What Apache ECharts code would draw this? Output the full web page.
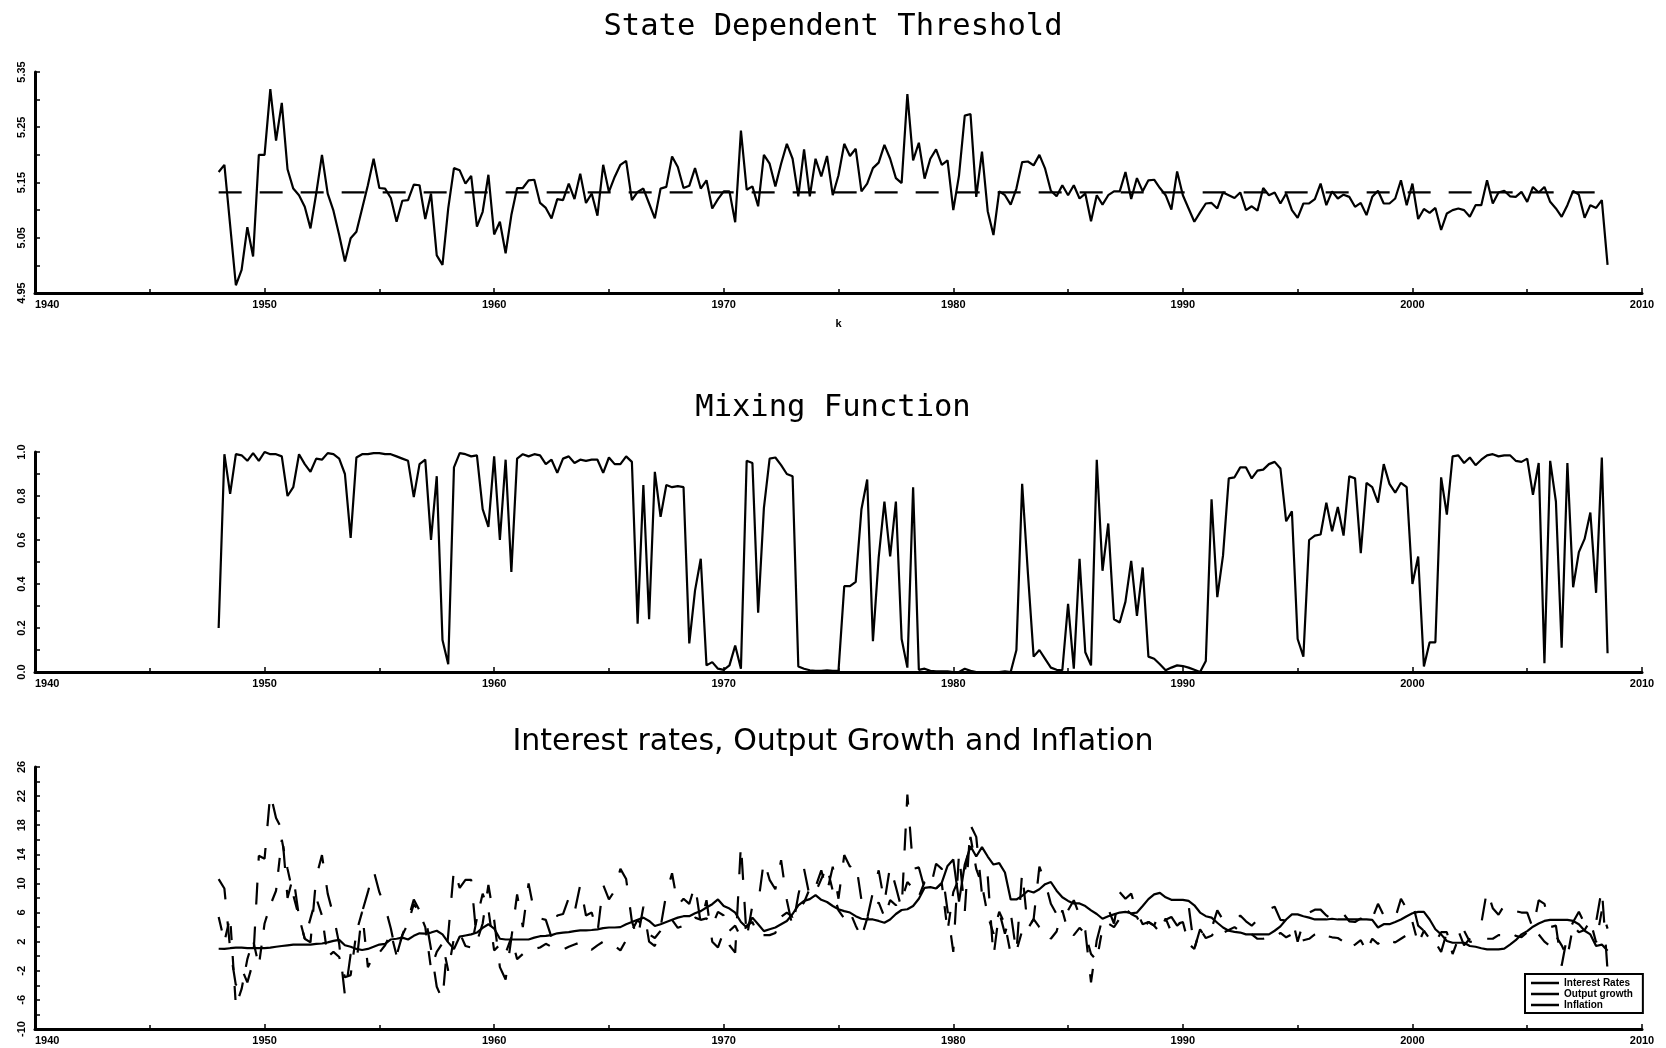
<!DOCTYPE html>
<html>
<head>
<meta charset="utf-8">
<script src="https://cdn.jsdelivr.net/npm/echarts@6/dist/echarts.min.js"></script>
<style>
  html, body { margin: 0; padding: 0; background: #ffffff; }
  #chart { width: 1666px; height: 1048px; }
</style>
</head>
<body>
<div id="chart"></div>
<script>
// Quarterly observations, 1948Q1 .. 2008Q3
const startYear = 1948;

// State dependent threshold (one row per year)
const threshold = [
  5.169, 5.182, 5.073, 4.964,
  4.992, 5.069, 5.016, 5.200,
  5.200, 5.319, 5.226, 5.294,
  5.174, 5.139, 5.127, 5.106,
  5.067, 5.130, 5.200, 5.130,
  5.099, 5.055, 5.007, 5.049,
  5.061, 5.103, 5.145, 5.193,
  5.140, 5.139, 5.122, 5.079,
  5.117, 5.118, 5.146, 5.145,
  5.084, 5.130, 5.018, 5.001,
  5.103, 5.176, 5.172, 5.148,
  5.162, 5.070, 5.097, 5.164,
  5.056, 5.079, 5.022, 5.091,
  5.140, 5.140, 5.154, 5.155,
  5.113, 5.104, 5.085, 5.120,
  5.118, 5.148, 5.120, 5.166,
  5.113, 5.130, 5.090, 5.182,
  5.133, 5.160, 5.182, 5.189,
  5.118, 5.133, 5.139, 5.112,
  5.085, 5.139, 5.142, 5.197,
  5.178, 5.140, 5.144, 5.176,
  5.139, 5.154, 5.103, 5.120,
  5.134, 5.134, 5.078, 5.244,
  5.137, 5.143, 5.107, 5.200,
  5.184, 5.143, 5.184, 5.220,
  5.193, 5.125, 5.210, 5.125,
  5.193, 5.161, 5.198, 5.127,
  5.163, 5.220, 5.198, 5.211,
  5.134, 5.148, 5.176, 5.186,
  5.218, 5.193, 5.158, 5.149,
  5.310, 5.190, 5.222, 5.157,
  5.193, 5.210, 5.182, 5.190,
  5.100, 5.163, 5.271, 5.274,
  5.124, 5.206, 5.098, 5.055,
  5.134, 5.127, 5.110, 5.139,
  5.187, 5.188, 5.181, 5.200,
  5.175, 5.135, 5.125, 5.145,
  5.127, 5.145, 5.121, 5.130,
  5.080, 5.127, 5.110, 5.127,
  5.134, 5.134, 5.169, 5.120,
  5.158, 5.134, 5.154, 5.155,
  5.140, 5.127, 5.101, 5.170,
  5.127, 5.103, 5.079, 5.096,
  5.112, 5.113, 5.103, 5.132,
  5.127, 5.122, 5.132, 5.100,
  5.107, 5.099, 5.140, 5.127,
  5.132, 5.112, 5.130, 5.100,
  5.086, 5.112, 5.112, 5.120,
  5.148, 5.109, 5.134, 5.121,
  5.128, 5.124, 5.106, 5.113,
  5.091, 5.124, 5.135, 5.112,
  5.112, 5.121, 5.154, 5.109,
  5.148, 5.084, 5.102, 5.095,
  5.104, 5.064, 5.094, 5.100,
  5.103, 5.100, 5.088, 5.109,
  5.109, 5.154, 5.112, 5.132,
  5.135, 5.125, 5.124, 5.133,
  5.115, 5.142, 5.132, 5.142,
  5.115, 5.103, 5.088, 5.109,
  5.135, 5.128, 5.086, 5.109,
  5.104, 5.118, 5.001
];

// Constant (linear) threshold
const thresholdLevel = 5.132;

// Mixing function
const mixing = [
  0.20, 0.99, 0.81, 0.99,
  0.985, 0.96, 0.995, 0.96,
  1.00, 0.99, 0.99, 0.98,
  0.80, 0.84, 0.99, 0.945,
  0.91, 0.97, 0.965, 0.995,
  0.99, 0.97, 0.90, 0.61,
  0.975, 0.99, 0.99, 0.995,
  0.995, 0.99, 0.99, 0.98,
  0.97, 0.96, 0.795, 0.945,
  0.965, 0.60, 0.89, 0.145,
  0.035, 0.93, 0.995, 0.99,
  0.98, 0.985, 0.74, 0.66,
  0.98, 0.60, 0.965, 0.455,
  0.97, 0.99, 0.98, 0.99,
  0.985, 0.945, 0.965, 0.905,
  0.97, 0.98, 0.95, 0.965,
  0.96, 0.965, 0.965, 0.905,
  0.975, 0.945, 0.945, 0.98,
  0.955, 0.22, 0.85, 0.24,
  0.91, 0.705, 0.85, 0.84,
  0.845, 0.84, 0.13, 0.37,
  0.515, 0.03, 0.045, 0.015,
  0.01, 0.03, 0.12, 0.015,
  0.96, 0.95, 0.27, 0.745,
  0.97, 0.975, 0.94, 0.90,
  0.89, 0.025, 0.015, 0.008,
  0.005, 0.005, 0.008, 0.005,
  0.005, 0.39, 0.39, 0.41,
  0.74, 0.875, 0.14, 0.52,
  0.775, 0.525, 0.775, 0.15,
  0.02, 0.84, 0.01, 0.015,
  0.005, 0.003, 0.003, 0.003,
  0.0, 0.0, 0.015, 0.005,
  0.0, 0.0, 0.0, 0.0,
  0.0, 0.003, 0.0, 0.10,
  0.855, 0.45, 0.07, 0.10,
  0.06, 0.02, 0.01, 0.008,
  0.31, 0.015, 0.515, 0.09,
  0.03, 0.965, 0.46, 0.675,
  0.24, 0.225, 0.32, 0.505,
  0.255, 0.475, 0.07, 0.06,
  0.035, 0.008, 0.02, 0.03,
  0.027, 0.02, 0.01, 0.0,
  0.05, 0.785, 0.34, 0.53,
  0.88, 0.885, 0.93, 0.93,
  0.88, 0.915, 0.92, 0.945,
  0.955, 0.925, 0.685, 0.73,
  0.15, 0.07, 0.60, 0.62,
  0.625, 0.77, 0.64, 0.75,
  0.62, 0.89, 0.88, 0.54,
  0.86, 0.84, 0.77, 0.945,
  0.855, 0.815, 0.86, 0.84,
  0.40, 0.525, 0.025, 0.135,
  0.135, 0.885, 0.715, 0.98,
  0.985, 0.95, 0.975, 0.94,
  0.965, 0.985, 0.99, 0.98,
  0.985, 0.985, 0.96, 0.955,
  0.97, 0.805, 0.95, 0.04,
  0.96, 0.775, 0.11, 0.95,
  0.385, 0.545, 0.605, 0.725,
  0.36, 0.975, 0.085
];

// Short-term interest rate (%)
const interestRates = [
  1.03, 1.00, 1.10, 1.17,
  1.17, 1.10, 1.10, 1.10,
  1.12, 1.17, 1.30, 1.40,
  1.50, 1.60, 1.60, 1.60,
  1.60, 1.70, 1.75, 1.90,
  2.10, 2.25, 1.50, 1.30,
  1.00, 0.85, 1.00, 1.30,
  1.60, 1.70, 2.30, 2.40,
  2.55, 2.30, 2.80, 3.15,
  3.10, 3.25, 3.50, 3.00,
  1.90, 1.00, 2.70, 2.85,
  3.00, 3.25, 3.90, 4.40,
  3.80, 2.40, 2.30, 2.30,
  2.30, 2.30, 2.30, 2.55,
  2.75, 2.80, 2.90, 3.15,
  3.25, 3.30, 3.45, 3.55,
  3.55, 3.60, 3.70, 3.85,
  3.95, 3.95, 4.00, 4.40,
  4.70, 5.00, 5.30, 4.85,
  4.15, 4.40, 4.70, 5.00,
  5.30, 5.50, 5.50, 5.90,
  6.20, 6.70, 7.15, 7.80,
  6.90, 6.55, 6.00, 4.70,
  3.95, 5.30, 4.40, 3.45,
  3.70, 3.95, 4.40, 4.85,
  5.80, 7.00, 7.60, 7.85,
  8.40, 7.75, 7.45, 6.90,
  6.45, 6.20, 6.00, 5.50,
  5.15, 5.05, 5.05, 4.85,
  4.60, 5.05, 5.80, 6.35,
  6.45, 6.90, 7.90, 9.40,
  9.50, 9.30, 10.10, 12.40,
  13.30, 7.50, 12.60, 15.10,
  13.70, 15.00, 13.70, 12.60,
  12.80, 11.50, 7.80, 7.80,
  8.30, 9.00, 8.75, 9.20,
  9.90, 10.20, 9.00, 8.10,
  7.60, 7.25, 7.25, 6.90,
  6.30, 5.80, 5.15, 5.50,
  5.75, 6.00, 6.10, 5.90,
  6.00, 6.90, 7.85, 8.50,
  8.70, 8.10, 7.75, 7.75,
  7.75, 7.60, 7.00, 6.00,
  5.50, 5.30, 4.60, 3.95,
  3.50, 3.35, 3.25, 3.00,
  3.00, 3.00, 3.00, 3.00,
  3.50, 4.10, 5.05, 5.75,
  5.75, 5.50, 5.30, 5.05,
  5.05, 5.05, 5.15, 5.05,
  5.05, 5.05, 5.05, 5.05,
  5.05, 5.00, 3.95, 4.40,
  4.40, 4.70, 5.05, 5.50,
  5.90, 6.10, 6.10, 5.05,
  3.70, 3.00, 2.10, 1.85,
  1.85, 1.85, 1.40, 1.30,
  1.10, 0.95, 0.95, 0.95,
  1.05, 1.60, 2.20, 3.00,
  3.45, 4.05, 4.50, 4.85,
  5.00, 5.00, 5.00, 5.00,
  4.85, 4.40, 3.50, 3.00,
  1.40, 1.60, 0.75
];

// Output growth (%)
const outputGrowth = [
  10.6, 9.3, 1.0, -4.0,
  -1.7, -3.6, -0.8, 13.8,
  13.4, 22.4, 19.0, 17.5,
  8.0, 11.0, 5.4, 2.4,
  1.9, 10.9, 13.9, 8.6,
  5.6, 1.7, -5.4, 0.3,
  -1.0, 6.1, 8.8, 11.8,
  8.8, 6.8, 3.8, 0.1,
  2.9, 5.0, 7.8, 6.3,
  5.6, 1.0, -4.2, -6.0,
  3.0, 12.0, 9.4, 10.5,
  10.5, 2.0, 4.5, 9.8,
  5.0, -1.5, -3.2, 2.5,
  8.5, 4.0, 10.0, 6.0,
  5.2, 5.0, 2.6, 5.6,
  5.8, 8.0, 6.0, 9.8,
  5.6, 6.0, 3.2, 9.8,
  7.8, 9.0, 12.0, 10.6,
  4.8, 2.4, 6.8, 2.0,
  1.4, 4.0, 8.6, 11.4,
  7.0, 7.9, 7.2, 9.8,
  4.5, 7.7, 2.0, 1.2,
  3.4, 1.5, 0.5, 15.4,
  2.5, 7.0, 7.2, 13.2,
  10.5, 9.2, 13.2, 7.7,
  4.0, 8.4, 12.0, 8.1,
  9.5, 11.8, 8.8, 12.3,
  7.9, 13.9, 12.3, 13.0,
  7.7, 5.2, 8.8, 11.8,
  7.4, 12.4, 9.5, 6.5,
  22.2, 12.0, 12.2, 9.3,
  9.3, 12.7, 12.0, 6.3,
  0.6, 14.2, 6.1, 18.0,
  16.4, 8.5, 11.0, -0.1,
  6.1, 3.1, 6.0, 0.5,
  11.6, 3.8, 5.1, 12.3,
  10.2, 7.2, 5.8, 7.2,
  6.3, 7.7, 5.6, 3.5,
  -3.6, 2.2, 5.2, 6.5,
  4.5, 8.8, 7.9, 8.6,
  6.0, 4.4, 4.7, 4.2,
  6.2, 5.0, 5.4, 4.2,
  4.9, 7.0, 1.0, 3.7,
  2.5, 3.8, 6.3, 5.0,
  5.2, 4.8, 5.6, 4.8,
  4.2, 5.0, 5.8, 6.5,
  6.8, 5.0, 4.9, 5.4,
  2.0, 4.7, 6.0, 6.4,
  6.4, 5.6, 5.0, 6.1,
  5.8, 4.8, 4.7, 5.2,
  4.2, 5.2, 7.2, 5.6,
  4.8, 5.2, 7.9, 6.5,
  7.4, 4.2, 3.5, 2.8,
  1.9, 0.6, 3.3, 4.0,
  3.5, 1.5, 2.4, 3.7,
  4.5, 9.1, 6.6, 5.7,
  7.0, 5.8, 6.2, 6.0,
  6.0, 3.8, 7.7, 7.2,
  4.0, 4.2, -1.3, 2.9,
  4.7, 6.1, 4.5, 5.2,
  4.7, 9.3, -2.0
];

// Inflation (%)
const inflation = [
  5.4, 2.0, 5.4, -6.8,
  -4.5, -0.4, 2.2, -1.3,
  4.5, 7.0, 9.0, 16.0,
  12.0, 8.4, 5.4, 2.4,
  5.2, 8.0, 5.6, -0.1,
  0.6, -0.1, -2.9, -2.6,
  3.3, 6.1, -1.5, 0.1,
  0.5, 1.5, 3.2, 0.1,
  2.9, 4.5, 7.2, 6.0,
  4.0, -1.7, 0.6, 1.8,
  -2.0, 2.5, 3.2, 1.4,
  1.2, 5.2, 8.6, 6.4,
  0.8, 1.6, 0.4, 2.6,
  -0.4, 0.3, 0.6, 1.0,
  1.2, 1.7, 1.3, 0.9,
  0.9, 1.3, 1.6, 1.9,
  1.2, 0.9, 1.5, 2.0,
  1.9, 1.4, 0.8, 2.2,
  3.5, 5.0, 4.0, 3.0,
  2.5, 3.5, 4.5, 5.0,
  3.9, 4.2, 4.5, 5.3,
  5.0, 5.2, 4.2, 6.1,
  5.6, 3.5, 4.2, 2.6,
  4.2, 4.7, 2.9, 2.9,
  2.9, 3.2, 5.4, 6.0,
  5.4, 6.3, 7.4, 9.3,
  8.8, 10.6, 12.2, 9.0,
  6.3, 5.2, 6.1, 4.2,
  2.6, 5.2, 6.1, 7.4,
  5.4, 7.7, 7.0, 7.7,
  10.2, 9.3, 8.2, 10.2,
  10.4, 9.3, 10.0, 3.5,
  8.8, 10.7, 11.6, 16.4,
  12.0, 9.8, 5.6, 3.1,
  6.1, 4.4, 0.3, 0.7,
  3.5, 3.8, 5.1, 4.0,
  3.7, 2.4, 3.4, 6.3,
  3.4, 2.9, 3.9, 3.1,
  0.3, -0.6, 3.9, 4.5,
  4.0, 5.2, 6.5, 5.8,
  5.4, 3.8, 4.7, 4.2,
  3.3, 5.2, 3.3, 4.4,
  4.7, 1.7, 1.0, 3.7,
  2.5, 2.8, 3.8, 3.2,
  3.6, 4.0, 3.4, 3.2,
  3.0, 2.4, 2.4, 2.6,
  2.6, 3.2, 2.6, 3.0,
  2.0, 2.2, 2.4, 3.0,
  3.4, 2.8, 2.6, 2.5,
  2.0, 1.1, 1.6, 2.2,
  0.7, 2.4, 1.7, 2.4,
  2.1, 1.9, 2.4, 2.9,
  4.7, 1.7, 3.5, 2.4,
  1.9, 3.3, 3.3, 0.3,
  2.4, 3.5, 2.0, 1.9,
  2.2, 2.4, 2.4, 2.9,
  2.9, 3.3, 2.8, 2.6,
  3.3, 3.8, 3.0, 2.0,
  1.4, 2.8, 1.5, -0.1,
  4.2, 3.3, 3.6, 4.9,
  1.9, 6.3, 3.8
];

// Axis ticks
const yearTicks = { min: 1940, max: 2010, step: 10 };
const thresholdTicks = { min: 4.95, max: 5.35, step: 0.1, digits: 2 };
const mixingTicks = { min: 0, max: 1, step: 0.2, digits: 1 };
const ratesTicks = { min: -10, max: 26, step: 4, digits: 0 };

const quarters = threshold.map((_, i) => startYear + i / 4);
const pairs = vals => vals.map((v, i) => [quarters[i], v]);
const lastQuarter = quarters[quarters.length - 1];

const INK = '#000000';
const labelFont = { color: INK, fontFamily: 'Liberation Sans, Arial, sans-serif', fontWeight: 'bold', fontSize: 11 };

const panels = [
  { top: 72, height: 221 },
  { top: 452, height: 220 },
  { top: 767, height: 262 }
];

function xAxisFor(gridIndex, extra) {
  return Object.assign({
    type: 'value', gridIndex,
    min: yearTicks.min, max: yearTicks.max, interval: yearTicks.step,
    axisLine: { show: true, onZero: false, lineStyle: { color: INK, width: 3 } },
    axisTick: { show: true, inside: true, length: 5, lineStyle: { color: INK, width: 1.5 } },
    minorTick: { show: true, splitNumber: 2, length: 4, lineStyle: { color: INK, width: 1.5 } },
    splitLine: { show: false },
    axisLabel: Object.assign({
      margin: 6, alignMinLabel: 'left', showMinLabel: true, showMaxLabel: true,
      formatter: v => String(Math.round(v))
    }, labelFont)
  }, extra || {});
}

function yAxisFor(gridIndex, t) {
  return {
    type: 'value', gridIndex,
    min: t.min, max: t.max, interval: t.step,
    axisLine: { show: true, onZero: false, lineStyle: { color: INK, width: 3 } },
    axisTick: { show: true, inside: true, length: 5, lineStyle: { color: INK, width: 1.5 } },
    minorTick: { show: true, splitNumber: 2, length: 5, lineStyle: { color: INK, width: 1.5 } },
    splitLine: { show: false },
    axisLabel: Object.assign({
      rotate: 90, margin: 8, showMinLabel: true, showMaxLabel: true,
      formatter: v => Number(v).toFixed(t.digits)
    }, labelFont)
  };
}

function lineSeries(name, data, xi, dash, z) {
  return {
    name, type: 'line', xAxisIndex: xi, yAxisIndex: xi,
    data, showSymbol: false, symbol: 'none', smooth: false,
    lineStyle: { color: INK, width: 2.2, type: dash || 'solid', cap: 'butt' },
    itemStyle: { color: INK },
    z: z || 2, silent: true
  };
}

const titleMono = { color: INK, fontFamily: 'DejaVu Sans Mono, monospace', fontWeight: 'normal', fontSize: 30.5 };

const option = {
  animation: false,
  backgroundColor: '#ffffff',
  title: [
    { text: 'State Dependent Threshold', left: 'center', top: 7, textStyle: titleMono },
    { text: 'Mixing Function', left: 'center', top: 388, textStyle: titleMono },
    { text: 'Interest rates, Output Growth and Inflation', left: 'center', top: 722,
      textStyle: { color: INK, fontFamily: 'DejaVu Sans, sans-serif', fontWeight: 'normal', fontSize: 30 } }
  ],
  grid: panels.map(p => ({ left: 35, right: 24, top: p.top, height: p.height, containLabel: false })),
  xAxis: [
    xAxisFor(0, { name: 'k', nameLocation: 'middle', nameGap: 25,
      nameTextStyle: Object.assign({}, labelFont, { fontSize: 11 }) }),
    xAxisFor(1),
    xAxisFor(2)
  ],
  yAxis: [
    yAxisFor(0, thresholdTicks),
    yAxisFor(1, mixingTicks),
    yAxisFor(2, ratesTicks)
  ],
  legend: {
    show: true,
    orient: 'vertical',
    left: 1525, top: 974,
    backgroundColor: '#ffffff',
    borderColor: INK, borderWidth: 2, borderRadius: 0,
    padding: [4, 10, 3, 6],
    itemGap: 1, itemWidth: 28, itemHeight: 2.5,
    icon: 'rect',
    textStyle: Object.assign({}, labelFont, { fontSize: 10 }),
    data: ['Interest Rates', 'Output growth', 'Inflation'],
    selectedMode: false
  },
  series: [
    lineSeries('Threshold', pairs(threshold), 0, 'solid', 3),
    lineSeries('Linear threshold', [[startYear, thresholdLevel], [lastQuarter, thresholdLevel]], 0, [23, 18], 2),
    lineSeries('Mixing', pairs(mixing), 1, 'solid', 3),
    lineSeries('Interest Rates', pairs(interestRates), 2, 'solid', 4),
    lineSeries('Output growth', pairs(outputGrowth), 2, [22, 22], 3),
    lineSeries('Inflation', pairs(inflation), 2, [14, 16], 3)
  ]
};

const chart = echarts.init(document.getElementById('chart'), null, { renderer: 'canvas' });
chart.setOption(option);
</script>
</body>
</html>
